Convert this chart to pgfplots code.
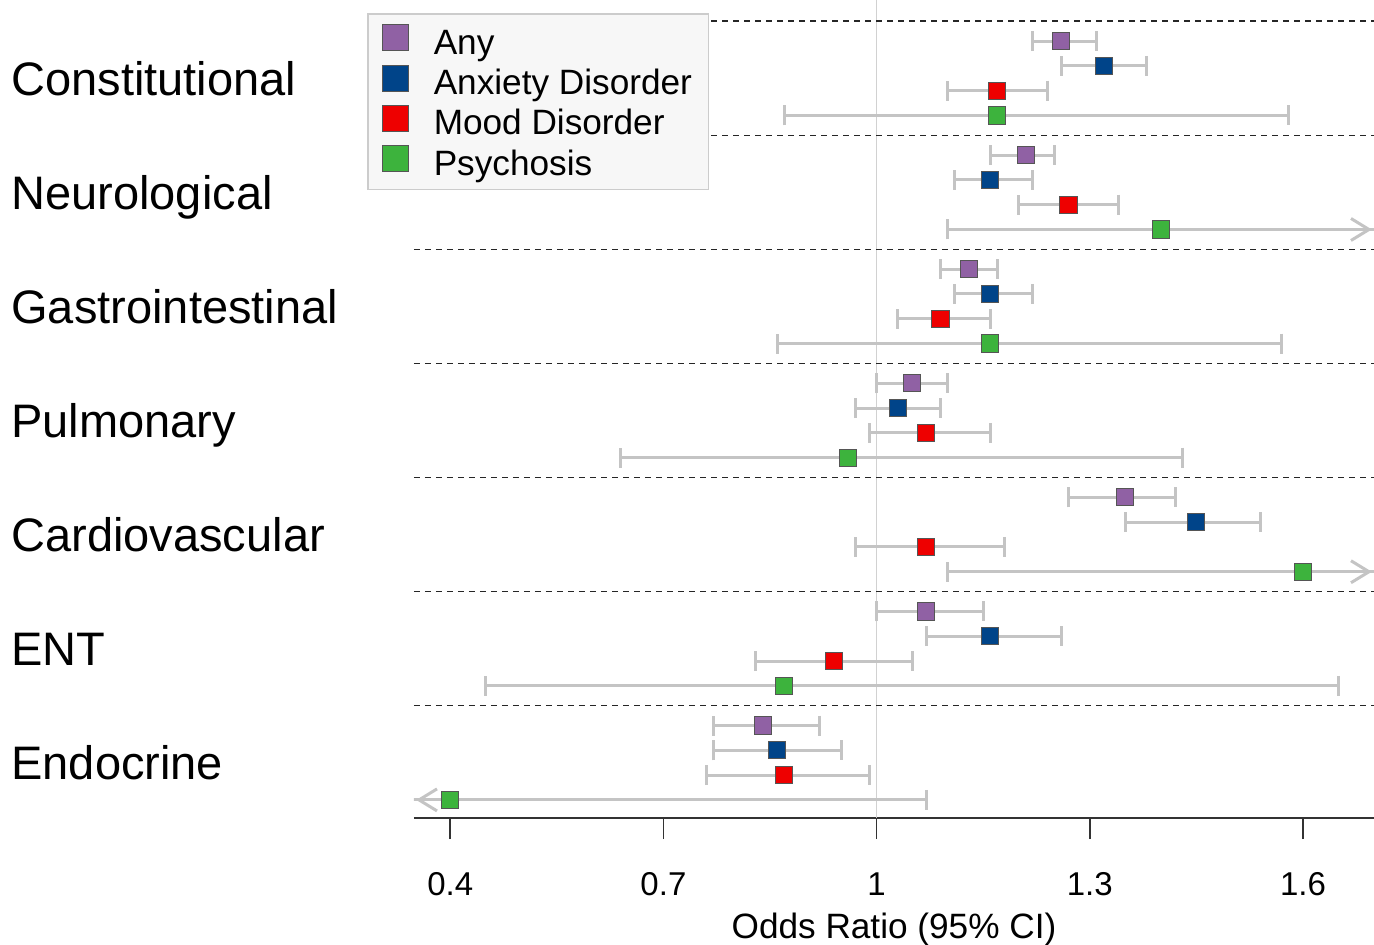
\documentclass[border=0pt]{standalone}
\usepackage{fontspec}
\setmainfont{Liberation Sans}
\usepackage{pgfplots}
\pgfplotsset{compat=1.18}
\usepackage{pgfplotstable}
\usetikzlibrary{arrows.meta}

\definecolor{cAny}{HTML}{9061A4}
\definecolor{cAnx}{HTML}{004489}
\definecolor{cMood}{HTML}{EE0000}
\definecolor{cPsy}{HTML}{3DB33D}
\definecolor{cbar}{HTML}{C4C4C4}
\definecolor{cedge}{HTML}{555555}

% y: row position (top to bottom), or: odds ratio, lo/hi: 95% CI
\pgfplotstableread{
y or lo hi
0    1.26 1.22 1.31
4.6  1.21 1.16 1.25
9.2  1.13 1.09 1.17
13.8 1.05 1.00 1.10
18.4 1.35 1.27 1.42
23.0 1.07 1.00 1.15
27.6 0.84 0.77 0.92
}\tAny
\pgfplotstableread{
y or lo hi
1    1.32 1.26 1.38
5.6  1.16 1.11 1.22
10.2 1.16 1.11 1.22
14.8 1.03 0.97 1.09
19.4 1.45 1.35 1.54
24.0 1.16 1.07 1.26
28.6 0.86 0.77 0.95
}\tAnx
\pgfplotstableread{
y or lo hi
2    1.17 1.10 1.24
6.6  1.27 1.20 1.34
11.2 1.09 1.03 1.16
15.8 1.07 0.99 1.16
20.4 1.07 0.97 1.18
25.0 0.94 0.83 1.05
29.6 0.87 0.76 0.99
}\tMood
\pgfplotstableread{
y or lo hi
3    1.17 0.87 1.58
7.6  1.40 1.10 1.80
12.2 1.16 0.86 1.57
16.8 0.96 0.64 1.43
21.4 1.60 1.10 1.80
26.0 0.87 0.45 1.65
30.6 0.40 0.25 1.07
}\tPsy

\pgfplotsset{
  series/.style={only marks, mark=square*, mark size=4.3pt,
    mark options={fill=#1, draw=cedge, line width=0.5pt},
    error bars/.cd, x dir=both, x explicit,
    error bar style={cbar, line width=1.5pt},
    error mark options={cbar, line width=1.5pt, mark size=5pt, rotate=90}},
}

\begin{document}
\begin{tikzpicture}
\begin{axis}[
  scale only axis, width=480pt, height=409pt,
  xmin=0.349, xmax=1.70,
  ymin=-1.653, ymax=31.33, y dir=reverse,
  axis x line=bottom, axis y line=left,
  x axis line style={-, draw=black!80, line width=0.8pt},
  y axis line style={draw=none},
  xtick={0.4,0.7,1,1.3,1.6},
  x tick style={draw=black!80, line width=0.8pt},
  tick align=outside, major tick length=10.5pt,
  ytick={1.5,6.1,10.7,15.3,19.9,24.5,29.1},
  yticklabels={Constitutional,Neurological,Gastrointestinal,Pulmonary,Cardiovascular,ENT,Endocrine},
  ytick style={draw=none},
  yticklabel style={anchor=base west, inner sep=0pt, xshift=-191pt, yshift=-8.4pt, font=\fontsize{23.5}{28}\selectfont},
  xticklabel style={font=\fontsize{16.5}{20}\selectfont, anchor=base, yshift=-28pt},
  /pgf/number format/assume math mode=true,
  xlabel={Odds Ratio (95\% CI)},
  xlabel style={font=\fontsize{17.6}{21}\selectfont, at={(axis description cs:0.5,0)}, anchor=base, yshift=-60pt},
  legend style={at={(axis description cs:-0.049,0.984)}, anchor=north west,
    fill=black!3, draw=black!20, line width=0.8pt,
    font=\fontsize{17.6}{20}\selectfont,
    inner xsep=7.25pt, inner ysep=3.7pt, row sep=0pt, column sep=11.75pt,
    nodes={inner sep=1pt, text height=15.6pt, text depth=2.5pt}},
  legend cell align=left,
  legend image code/.code={\draw[#1, mark size=6.5pt] plot coordinates {(0.3cm,1.8pt)};},
  clip=true,
]
\coordinate (bl) at (axis description cs:0,0);
\coordinate (tr) at (axis description cs:1,1);
% reference line at OR = 1
\addplot[forget plot, draw=black!18, line width=0.6pt] coordinates {(1,-1.653) (1,31.33)};
% group separators
\addplot[forget plot, draw=black!85, line width=0.7pt, dash pattern=on 3pt off 2.5pt] coordinates {(0.349,-0.8) (1.70,-0.8)};
\addplot[forget plot, draw=black!85, line width=0.7pt, dash pattern=on 3pt off 2.5pt] coordinates {(0.349,3.8) (1.70,3.8)};
\addplot[forget plot, draw=black!85, line width=0.7pt, dash pattern=on 3pt off 2.5pt] coordinates {(0.349,8.4) (1.70,8.4)};
\addplot[forget plot, draw=black!85, line width=0.7pt, dash pattern=on 3pt off 2.5pt] coordinates {(0.349,13.0) (1.70,13.0)};
\addplot[forget plot, draw=black!85, line width=0.7pt, dash pattern=on 3pt off 2.5pt] coordinates {(0.349,17.6) (1.70,17.6)};
\addplot[forget plot, draw=black!85, line width=0.7pt, dash pattern=on 3pt off 2.5pt] coordinates {(0.349,22.2) (1.70,22.2)};
\addplot[forget plot, draw=black!85, line width=0.7pt, dash pattern=on 3pt off 2.5pt] coordinates {(0.349,26.8) (1.70,26.8)};
% arrows for intervals beyond the axis
\addplot[forget plot, draw=cbar, line width=1.5pt, -{Straight Barb[length=9pt,width=11pt]}] coordinates {(1.60,7.6) (1.697,7.6)};
\addplot[forget plot, draw=cbar, line width=1.5pt, -{Straight Barb[length=9pt,width=11pt]}] coordinates {(1.65,21.4) (1.697,21.4)};
\addplot[forget plot, draw=cbar, line width=1.5pt, -{Straight Barb[length=9pt,width=11pt]}] coordinates {(0.40,30.6) (0.352,30.6)};
% series
\addplot[series=cAny] table[x=or, y=y, x error plus expr=\thisrow{hi}-\thisrow{or}, x error minus expr=\thisrow{or}-\thisrow{lo}] {\tAny};
\addplot[series=cAnx] table[x=or, y=y, x error plus expr=\thisrow{hi}-\thisrow{or}, x error minus expr=\thisrow{or}-\thisrow{lo}] {\tAnx};
\addplot[series=cMood] table[x=or, y=y, x error plus expr=\thisrow{hi}-\thisrow{or}, x error minus expr=\thisrow{or}-\thisrow{lo}] {\tMood};
\addplot[series=cPsy] table[x=or, y=y, x error plus expr=\thisrow{hi}-\thisrow{or}, x error minus expr=\thisrow{or}-\thisrow{lo}] {\tPsy};
\legend{Any, Anxiety Disorder, Mood Disorder, Psychosis}
\end{axis}
\pgfresetboundingbox
\path[use as bounding box] ([xshift=-207pt,yshift=-63pt]bl) rectangle (tr);
\end{tikzpicture}
\end{document}
